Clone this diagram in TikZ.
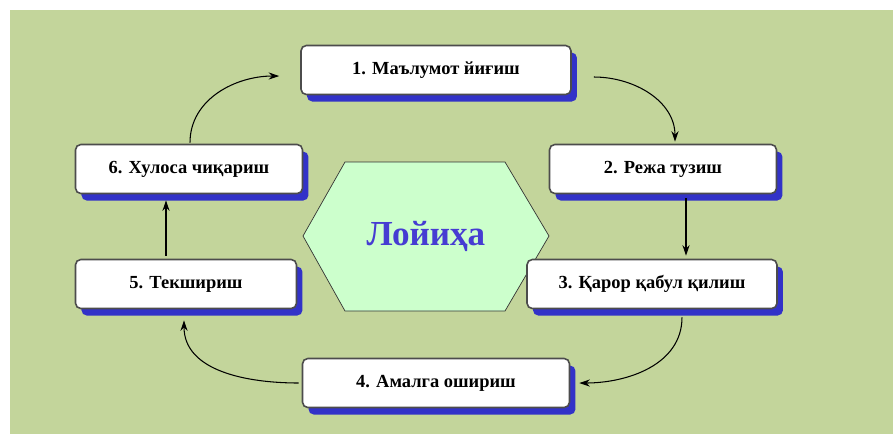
\documentclass[tikz,border=0pt]{standalone}
\usepackage{fontspec}
\setmainfont{Liberation Serif}
\usetikzlibrary{arrows.meta,shadows}
\definecolor{fon}{RGB}{195,213,155}
\definecolor{soya}{RGB}{50,50,200}
\definecolor{olti}{RGB}{204,255,204}
\definecolor{yozuv}{RGB}{70,60,210}

\begin{document}
\begin{tikzpicture}[x=0.02cm,y=-0.02cm,->,>={Stealth[length=6pt,width=4pt]},semithick,
  stage/.style={draw=black!70,fill=white,rounded corners=3pt,line width=0.9pt,minimum height=0.98cm,
    font=\bfseries\fontsize{10.5}{12}\selectfont,
    drop shadow={shadow xshift=3.4pt,shadow yshift=-4pt,fill=soya,opacity=1}},
  markaz/.style={font=\bfseries\fontsize{20}{24}\selectfont,text=yozuv}]
  \useasboundingbox (0,0) rectangle (893,434);
  \fill[white,-] (0,0) rectangle (893,434);
  \fill[fon,-] (10,10) rectangle (893,434);
  \filldraw[fill=olti,draw=black!80,thin,-] (345,162) -- (505,162) -- (549,236) -- (505,311) -- (345,311) -- (303,236) -- cycle;
  \node[markaz] (p) at (426,236) {Лойиҳа};
  \node[stage,minimum width=5.4cm] (1) at (436,70) {1. Маълумот йиғиш};
  \node[stage,minimum width=4.54cm] (2) at (663,169) {2. Режа тузиш};
  \node[stage,minimum width=5cm] (3) at (652,284) {3. Қарор қабул қилиш};
  \node[stage,minimum width=5.34cm] (4) at (436,383) {4. Амалга ошириш};
  \node[stage,minimum width=4.42cm] (5) at (186,284) {5. Текшириш};
  \node[stage,minimum width=4.54cm] (6) at (189,169) {6. Хулоса чиқариш};
  \path ([shift={(22,7)}]1.east) edge[out=0,in=90] ([shift={(12,-2)}]2.north);
  \path ([shift={(23,4)}]2.south) edge ([shift={(34,-3)}]3.north);
  \path ([shift={(30,8)}]3.south) edge[out=-90,in=0] ([shift={(9,0)}]4.east);
  \path ([shift={(-3,0)}]4.west) edge[out=180,in=-90] ([shift={(-2,11)}]5.south);
  \path ([shift={(-20,-3)}]5.north) edge ([shift={(-23,6)}]6.south);
  \path ([shift={(1,-1)}]6.north) edge[out=90,in=180] ([shift={(-21,6)}]1.west);
\end{tikzpicture}
\end{document}
